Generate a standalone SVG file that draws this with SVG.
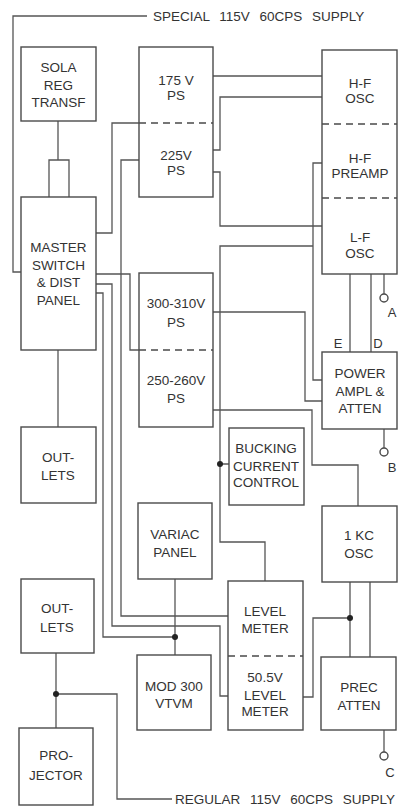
<svg xmlns="http://www.w3.org/2000/svg" width="405" height="807" viewBox="0 0 405 807">
<style>
.b{fill:none;stroke:#4a4a4a;stroke-width:1.4}
.d{fill:none;stroke:#4a4a4a;stroke-width:1.4;stroke-dasharray:7,5}
.w{fill:none;stroke:#555;stroke-width:1.3}
.t{font-family:"Liberation Sans",Arial,sans-serif;font-size:13.5px;fill:#333;text-anchor:middle}
.s{font-family:"Liberation Sans",Arial,sans-serif;font-size:13.5px;fill:#333;word-spacing:6px}
.l{font-family:"Liberation Sans",Arial,sans-serif;font-size:13px;fill:#333;text-anchor:middle}
.dot{fill:#222}
.term{fill:#fff;stroke:#4a4a4a;stroke-width:1.4}
</style>
<rect width="405" height="807" fill="#fff"/>
<g id="connectors">
<path class="w" d="M147,16 H13 V272 H21"/>
<path class="w" d="M58,121 V160 M49,197 V160 H69 V197"/>
<path class="w" d="M58,350 V427"/>
<path class="w" d="M56,653 V728 M56,694 H117 V799 H172"/>
<path class="w" d="M96,233 H112 V123 H139"/>
<path class="w" d="M139,160 H121 V616 H228"/>
<path class="w" d="M96,274 H130 V350 H139"/>
<path class="w" d="M96,284 H112 V626 H220 V696 H228"/>
<path class="w" d="M96,293 H103 V637 H175"/>
<path class="w" d="M175,579 V655"/>
<path class="w" d="M213,76 H322"/>
<path class="w" d="M213,150 H220 V97 H322"/>
<path class="w" d="M213,172 H220 V226 H322"/>
<path class="w" d="M322,163 H313 V380 H322"/>
<path class="w" d="M313,246 H220 V542 H265 V581 M220,464 H229"/>
<path class="w" d="M213,312 H305 V401 H322"/>
<path class="w" d="M213,410 H312 V465 H358 V506"/>
<path class="w" d="M350,274 V352 M371,274 V352"/>
<path class="w" d="M384,274 V294"/>
<path class="w" d="M384,429 V448"/>
<path class="w" d="M350,582 V657 M370,582 V657 M350,618 H313 V697 H303"/>
<path class="w" d="M384,730 V752"/>
<circle class="dot" cx="56" cy="694" r="3"/>
<circle class="dot" cx="175" cy="637" r="3"/>
<circle class="dot" cx="220" cy="464" r="3"/>
<circle class="dot" cx="350" cy="618" r="3"/>
<circle class="term" cx="384" cy="298" r="4"/>
<circle class="term" cx="384" cy="452" r="4"/>
<circle class="term" cx="384" cy="756" r="4"/>
<text class="l" x="338" y="348">E</text>
<text class="l" x="378" y="348">D</text>
<text class="l" x="392" y="317">A</text>
<text class="l" x="392" y="472">B</text>
<text class="l" x="390" y="777">C</text>
<text class="s" x="153" y="21">SPECIAL 115V 60CPS SUPPLY</text>
<text class="s" x="175" y="804">REGULAR 115V 60CPS SUPPLY</text>
</g>
<g id="sola">
<rect class="b" x="21" y="47" width="75" height="74"/>
<text class="t" x="58.5" y="72">SOLA</text>
<text class="t" x="58.5" y="90">REG</text>
<text class="t" x="58.5" y="107">TRANSF</text>
</g>
<g id="master">
<rect class="b" x="21" y="197" width="75" height="153"/>
<text class="t" x="58.5" y="252">MASTER</text>
<text class="t" x="58.5" y="270">SWITCH</text>
<text class="t" x="58.5" y="287">&amp; DIST</text>
<text class="t" x="58.5" y="305">PANEL</text>
</g>
<g id="outlets1">
<rect class="b" x="21" y="427" width="75" height="76"/>
<text class="t" x="58" y="462">OUT-</text>
<text class="t" x="58" y="480">LETS</text>
</g>
<g id="outlets2">
<rect class="b" x="21" y="579" width="73" height="74"/>
<text class="t" x="57" y="613">OUT-</text>
<text class="t" x="57" y="632">LETS</text>
</g>
<g id="projector">
<rect class="b" x="19" y="728" width="74" height="77"/>
<text class="t" x="56" y="760">PRO-</text>
<text class="t" x="56" y="780">JECTOR</text>
</g>
<g id="ps175-225">
<rect class="b" x="139" y="47" width="74" height="150"/>
<line class="d" x1="139" y1="123" x2="213" y2="123"/>
<text class="t" x="176" y="85">175 V</text>
<text class="t" x="176" y="100">PS</text>
<text class="t" x="176" y="160">225V</text>
<text class="t" x="176" y="175">PS</text>
</g>
<g id="ps300-250">
<rect class="b" x="139" y="273" width="74" height="154"/>
<line class="d" x1="139" y1="350" x2="213" y2="350"/>
<text class="t" x="176" y="308">300-310V</text>
<text class="t" x="176" y="327">PS</text>
<text class="t" x="176" y="385">250-260V</text>
<text class="t" x="176" y="403">PS</text>
</g>
<g id="variac">
<rect class="b" x="138" y="503" width="74" height="76"/>
<text class="t" x="175" y="539">VARIAC</text>
<text class="t" x="175" y="557">PANEL</text>
</g>
<g id="vtvm">
<rect class="b" x="137" y="655" width="74" height="75"/>
<text class="t" x="174" y="691">MOD 300</text>
<text class="t" x="174" y="708">VTVM</text>
</g>
<g id="bucking">
<rect class="b" x="229" y="428" width="75" height="77"/>
<text class="t" x="266" y="453">BUCKING</text>
<text class="t" x="266" y="471">CURRENT</text>
<text class="t" x="266" y="487">CONTROL</text>
</g>
<g id="levelmeters">
<rect class="b" x="228" y="581" width="75" height="149"/>
<line class="d" x1="228" y1="656" x2="303" y2="656"/>
<text class="t" x="265" y="616">LEVEL</text>
<text class="t" x="265" y="633">METER</text>
<text class="t" x="265" y="682">50.5V</text>
<text class="t" x="265" y="700">LEVEL</text>
<text class="t" x="265" y="716">METER</text>
</g>
<g id="oscillators">
<rect class="b" x="322" y="50" width="75" height="224"/>
<line class="d" x1="322" y1="124" x2="397" y2="124"/>
<line class="d" x1="322" y1="198" x2="397" y2="198"/>
<text class="t" x="360" y="88">H-F</text>
<text class="t" x="360" y="103">OSC</text>
<text class="t" x="360" y="163">H-F</text>
<text class="t" x="360" y="178">PREAMP</text>
<text class="t" x="360" y="242">L-F</text>
<text class="t" x="360" y="258">OSC</text>
</g>
<g id="poweramp">
<rect class="b" x="322" y="352" width="75" height="77"/>
<text class="t" x="360" y="378">POWER</text>
<text class="t" x="360" y="396">AMPL &amp;</text>
<text class="t" x="360" y="413">ATTEN</text>
</g>
<g id="osc1kc">
<rect class="b" x="322" y="506" width="75" height="76"/>
<text class="t" x="359" y="540">1 KC</text>
<text class="t" x="359" y="558">OSC</text>
</g>
<g id="precatten">
<rect class="b" x="321" y="657" width="75" height="73"/>
<text class="t" x="359" y="692">PREC</text>
<text class="t" x="359" y="710">ATTEN</text>
</g>
</svg>
